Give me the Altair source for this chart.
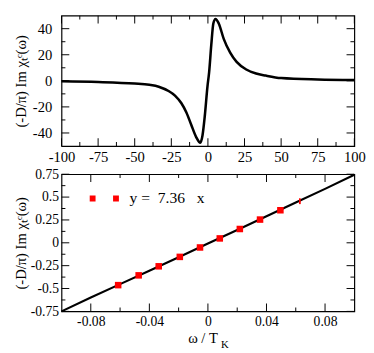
import altair as alt
import pandas as pd

# ---------------- data ----------------
top_x = [-100, -75, -50, -40, -33.6, -26.9, -22.5, -18.1, -14.7, -11.4, -8.1, -5.2,
         -3.7, -2.1, -0.3, 0.8, 2.3, 3.7, 5.2, 7.4, 10.8, 15.2, 19.6, 26.2, 32.9,
         39.5, 50, 75, 100]
top_y = [-0.4, -0.9, -2.1, -3.1, -4.5, -7.8, -11.3, -17.2, -24.3, -33.7, -43, -47.5,
         -41.9, -26.6, -4.2, 6.3, 27.5, 44, 47.5, 44, 32.2, 21.6, 14.5, 8.7, 5.6,
         4.0, 2.1, 1.0, 0.6]

bot_x = [-0.1, -0.08, -0.06, -0.04, -0.02, 0.0, 0.02, 0.04, 0.06, 0.08, 0.1]
bot_y = [-0.75, -0.598, -0.452, -0.305, -0.157, -0.008, 0.14, 0.29, 0.44, 0.59, 0.745]

fit_x = [-0.0613, -0.0473, -0.0336, -0.0192, -0.0054, 0.0081, 0.0218, 0.0356, 0.0495]
fit_y = [-0.463, -0.356, -0.257, -0.154, -0.051, 0.048, 0.151, 0.254, 0.356]
fit_partial_x = [0.0628]
fit_partial_y = [0.455]
legend_label = "y =\u00a0 7.36\u00a0\u00a0 x"

top_xdomain = [-100, 100]
top_ydomain = [-50, 50]
top_xlabels = [-100, -75, -50, -25, 0, 25, 50, 75, 100]
top_xminor = [-87.5, -62.5, -37.5, -12.5, 12.5, 37.5, 62.5, 87.5]
top_ylabels = [-40, -20, 0, 20, 40]
top_yminor = [-30, -10, 10, 30]

bot_xdomain = [-0.1, 0.1]
bot_ydomain = [-0.75, 0.75]
bot_xlabels = [-0.08, -0.04, 0, 0.04, 0.08]
bot_xminor = [-0.06, -0.02, 0.02, 0.06]
bot_ylabels = [-0.75, -0.5, -0.25, 0, 0.25, 0.5, 0.75]
bot_yminor = [-0.625, -0.375, -0.125, 0.125, 0.375, 0.625]

ytitle = "(-D/\u03c0)  Im \u03c7\u209c\u1d9c(\u03c9)"
xtitle_bottom = "\u03c9 / T"
xtitle_sub = "K"

FONT = "Liberation Serif"
W = 301
H_TOP = 134
H_BOT = 141
MAJOR = 8
MINOR = 4


def label_axes(xlabels, ylabels, size, xpad, ypad, xtitle, xtitle_x, xtitle_y, ytitle_x, h):
    common = dict(ticks=False, domain=False, grid=False, labelExpr="'' + datum.value",
                  labelFontSize=size, labelFont=FONT, labelColor="black",
                  labelFlush=False, labelOverlap=False)
    if xtitle:
        ax = alt.Axis(orient="bottom", values=xlabels, labelPadding=xpad, title=xtitle,
                      titleFont=FONT, titleFontSize=15, titleFontWeight="normal",
                      titleX=xtitle_x, titleY=xtitle_y, titleBaseline="alphabetic",
                      titleAlign="center", titleColor="black", **common)
    else:
        ax = alt.Axis(orient="bottom", values=xlabels, labelPadding=xpad, title=None, **common)
    ay = alt.Axis(orient="left", values=ylabels, labelPadding=ypad, title=ytitle,
                  titleFont=FONT, titleFontSize=15, titleFontWeight="normal",
                  titleX=ytitle_x, titleY=h / 2, titleBaseline="alphabetic",
                  titleAlign="center", titleAngle=270, titleColor="black", **common)
    return ax, ay


def tick_layers(sx, sy, xdom, ydom, xmaj, xmin, ymaj, ymin):
    """inward ticks on all four sides of the frame (no axes of their own)"""
    layers = []
    for vals, length in ((xmaj, MAJOR), (xmin, MINOR)):
        for edge, sign in ((ydom[0], -1), (ydom[1], 1)):
            df = pd.DataFrame({"v": vals, "e": [edge] * len(vals)})
            layers.append(alt.Chart(df).mark_tick(
                orient="vertical", size=length, thickness=1, color="black", opacity=1,
                yOffset=sign * length / 2).encode(
                x=alt.X("v:Q", scale=sx, axis=None), y=alt.Y("e:Q", scale=sy, axis=None)))
    for vals, length in ((ymaj, MAJOR), (ymin, MINOR)):
        for edge, sign in ((xdom[0], 1), (xdom[1], -1)):
            df = pd.DataFrame({"e": [edge] * len(vals), "v": vals})
            layers.append(alt.Chart(df).mark_tick(
                orient="horizontal", size=length, thickness=1, color="black", opacity=1,
                xOffset=sign * length / 2).encode(
                x=alt.X("e:Q", scale=sx, axis=None), y=alt.Y("v:Q", scale=sy, axis=None)))
    return layers


# ---------------- top panel ----------------
df_top = pd.DataFrame({"x": top_x, "y": top_y})
sx_top = alt.Scale(domain=top_xdomain, nice=False, zero=False)
sy_top = alt.Scale(domain=top_ydomain, nice=False, zero=False)
ax_t, ay_t = label_axes(top_xlabels, top_ylabels, 15, 4, 10, None, 0, 0, -37, H_TOP)

top_curve = alt.Chart(df_top).mark_line(
    color="black", strokeWidth=2.6, interpolate="monotone").encode(
    x=alt.X("x:Q", scale=sx_top, axis=ax_t), y=alt.Y("y:Q", scale=sy_top, axis=ay_t))
top = alt.layer(top_curve, *tick_layers(sx_top, sy_top, top_xdomain, top_ydomain,
                                        top_xlabels, top_xminor, top_ylabels, top_yminor)
                ).resolve_axis(x="independent", y="independent").properties(
    width=W, height=H_TOP)

# ---------------- bottom panel ----------------
df_bot = pd.DataFrame({"x": bot_x, "y": bot_y})
df_fit = pd.DataFrame({"x": fit_x, "y": fit_y, "s": [legend_label] * len(fit_x)})
df_part = pd.DataFrame({"x": fit_partial_x, "y": fit_partial_y})
sx_bot = alt.Scale(domain=bot_xdomain, nice=False, zero=False)
sy_bot = alt.Scale(domain=bot_ydomain, nice=False, zero=False)
ax_b, ay_b = label_axes(bot_xlabels, bot_ylabels, 14, 4, 3, xtitle_bottom, 145, 32, -37, H_BOT)

bot_line = alt.Chart(df_bot).mark_line(color="black", strokeWidth=2.2).encode(
    x=alt.X("x:Q", scale=sx_bot, axis=ax_b), y=alt.Y("y:Q", scale=sy_bot, axis=ay_b))

legend_path = "M-1,-0.2H-0.6V0.2H-1Z M0.6,-0.2H1V0.2H0.6Z"
pts = alt.Chart(df_fit).mark_square(size=45, opacity=1).encode(
    x=alt.X("x:Q", scale=sx_bot, axis=None),
    y=alt.Y("y:Q", scale=sy_bot, axis=None),
    color=alt.Color("s:N", scale=alt.Scale(range=["#ff0000"]),
                    legend=alt.Legend(orient="none", legendX=29, legendY=10, title=None,
                                      symbolType=legend_path, symbolSize=900,
                                      symbolStrokeWidth=0, labelFont=FONT, labelFontSize=16,
                                      labelOffset=11, labelColor="black", padding=0)))
pts_part = alt.Chart(df_part).mark_point(
    shape="M-0.3,-1H0.3V1H-0.3Z", size=36, filled=True, color="#ff0000", opacity=1).encode(
    x=alt.X("x:Q", scale=sx_bot, axis=None), y=alt.Y("y:Q", scale=sy_bot, axis=None))

sub_k = alt.Chart(pd.DataFrame({"t": [xtitle_sub]})).mark_text(
    font=FONT, fontSize=11, align="left", baseline="alphabetic", color="black").encode(
    text="t:N", x=alt.value(164), y=alt.value(179))

bottom = alt.layer(bot_line,
                   *tick_layers(sx_bot, sy_bot, bot_xdomain, bot_ydomain,
                                bot_xlabels, bot_xminor, bot_ylabels, bot_yminor),
                   pts, pts_part, sub_k
                   ).resolve_axis(x="independent", y="independent").properties(
    width=W, height=H_BOT)

chart = alt.vconcat(top, bottom, spacing=29, bounds="flush").resolve_legend(
    color="independent").properties(
    padding={"left": 5, "top": 0, "right": 0, "bottom": 0}
).configure_view(stroke="black", strokeWidth=1.2).configure_axis(
    labelFont=FONT, titleFont=FONT)

chart.save("out.html", embed_options={"renderer": "svg", "actions": False})
